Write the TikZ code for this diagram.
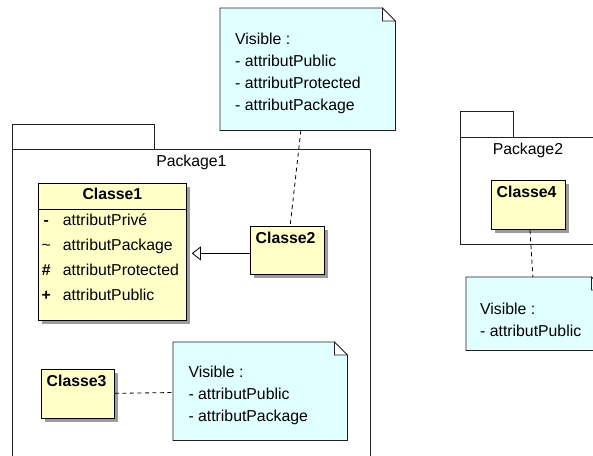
\documentclass[tikz,border=0pt]{standalone}
\usepackage{fontspec}
\setmainfont{Liberation Sans}
\usetikzlibrary{arrows.meta, positioning, shadows}
\definecolor{cCls}{HTML}{FFFFC8}
\definecolor{cNote}{HTML}{E0FFFF}
\definecolor{cShd}{HTML}{9C9C9C}
\definecolor{cLn}{HTML}{202020}

% note outline with folded corner
\newcommand{\notefold}[1]{%
  \filldraw[notebox] (#1.north west) -- ([xshift=-13pt]#1.north east)
    -- ([yshift=-13pt]#1.north east) -- (#1.south east) -- (#1.south west) -- cycle;
  \filldraw[notebox, fill=white] ([xshift=-13pt]#1.north east)
    |- ([yshift=-13pt]#1.north east) -- cycle;}

\begin{document}
\begin{tikzpicture}[x=1pt, y=-1pt,
    txt/.style={font=\fontsize{15.8}{22}\selectfont, inner sep=0, align=left},
    cname/.style={txt, font=\fontsize{15.8}{22}\selectfont\bfseries},
    pkg/.style={draw=cLn, fill=white, line width=0.8pt, inner sep=0, anchor=north west},
    cls/.style={draw=black, fill=cCls, line width=0.8pt, inner sep=0, anchor=north west,
                drop shadow={shadow xshift=4pt, shadow yshift=-4pt, fill=cShd, opacity=1}},
    note/.style={inner sep=0, anchor=north west},
    notebox/.style={draw=cLn, fill=cNote, line width=0.8pt, line join=miter},
    dsh/.style={draw=black, line width=0.8pt, dash pattern=on 4pt off 3.5pt},
    inh/.style={-{Triangle[open, length=9pt, width=14pt]}, line width=0.8pt},
]
\clip (0,0) rectangle (593,455);

% === PACKAGES ===
\node[pkg, minimum width=142pt, minimum height=25pt] (pk1tab) at (12,124) {};
\node[pkg, minimum width=358pt, minimum height=330pt] (pk1) at (12,149) {};
\node[txt, below=6pt of pk1.north] (pk1lbl) {Package1};

\node[pkg, minimum width=53pt, minimum height=26pt] (pk2tab) at (460,111) {};
\node[pkg, minimum width=135pt, minimum height=107pt] (pk2) at (460,137) {};
\node[txt, below=6pt of pk2.north] (pk2lbl) {Package2};

% === CLASSES ===
\node[cls, minimum width=148pt, minimum height=137pt] (c1) at (38,183) {};
\node[cname, below=4.7pt of c1.north] (c1n) {Classe1};
\draw[line width=0.8pt] ([yshift=-26pt]c1.north west) -- ([yshift=-26pt]c1.north east);
\node[txt, below right=25.4pt and 3.4pt of c1.north west] (c1att) {%
  \renewcommand{\arraystretch}{1.123}%
  \begin{tabular}{@{}c@{\hspace{12.1pt}}l@{}}
    \textbf{-} & attributPrivé\\
    \textasciitilde & attributPackage\\
    \textbf{\#} & attributProtected\\
    \textbf{+} & attributPublic
  \end{tabular}};

\node[cls, minimum width=74pt, minimum height=48pt] (c2) at (250,226) {};
\node[cname, below right=5.5pt and 5.5pt of c2.north west] (c2n) {Classe2};

\node[cls, minimum width=73pt, minimum height=49pt] (c3) at (41,369) {};
\node[cname, below right=5.5pt and 5.5pt of c3.north west] (c3n) {Classe3};

\node[cls, minimum width=74pt, minimum height=49pt] (c4) at (491,180) {};
\node[cname, below right=5.5pt and 5.5pt of c4.north west] (c4n) {Classe4};

% === NOTES ===
\node[note, minimum width=175pt, minimum height=122pt] (n1) at (220,8) {};
\notefold{n1}
\node[txt, below right=25.3pt and 15pt of n1.north west] (n1t)
  {Visible :\\- attributPublic\\- attributProtected\\- attributPackage};

\node[note, minimum width=174pt, minimum height=98pt] (n2) at (173,342) {};
\notefold{n2}
\node[txt, below right=24pt and 15.3pt of n2.north west] (n2t)
  {Visible :\\- attributPublic\\- attributPackage};

\node[note, minimum width=138pt, minimum height=73pt] (n3) at (466,277) {};
\notefold{n3}
\node[txt, below right=26pt and 14pt of n3.north west] (n3t)
  {Visible :\\- attributPublic};

% === CONNECTORS ===
\coordinate (c2in) at ([yshift=-3pt]c2.west);
\draw[inh, shorten >=5pt] (c2in) -- (c2in -| c1.east);
\draw[dsh] (n1) -- (c2);
\draw[dsh] (c3) -- (n2);
\draw[dsh] (c4) -- (n3);

\end{tikzpicture}
\end{document}
